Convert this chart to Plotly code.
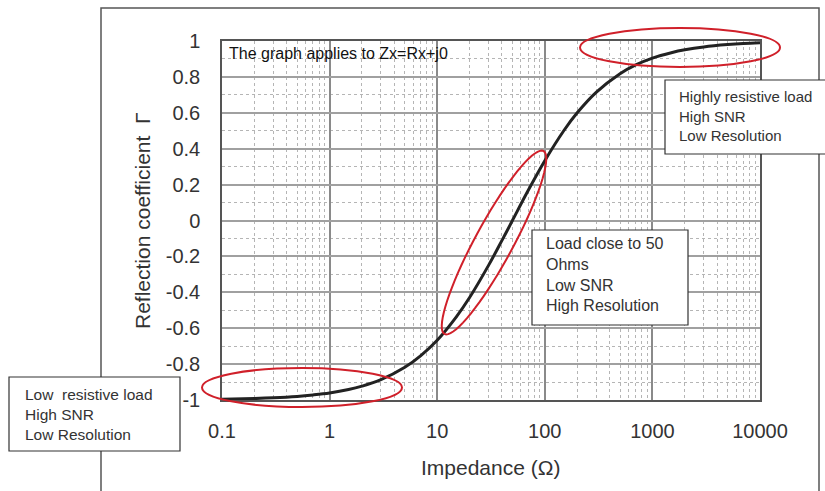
import plotly.graph_objects as go
import math

# Data
impedance = [0.1, 0.2, 0.3, 0.5, 0.7, 1, 1.5, 2, 3, 5, 7, 10, 15, 20, 30, 40, 50,
             70, 100, 150, 200, 300, 500, 700, 1000, 1500, 2000, 3000, 5000, 7000, 10000]
gamma = [-0.996, -0.992, -0.988, -0.980, -0.972, -0.961, -0.942, -0.923, -0.887,
         -0.818, -0.754, -0.667, -0.538, -0.429, -0.250, -0.111, 0.0, 0.167, 0.333,
         0.500, 0.600, 0.714, 0.818, 0.867, 0.905, 0.935, 0.951, 0.967, 0.980,
         0.986, 0.990]

x_tickvals = [0.1, 1, 10, 100, 1000, 10000]
x_ticktext = ["0.1", "1", "10", "100", "1000", "10000"]
y_tickvals = [1, 0.8, 0.6, 0.4, 0.2, 0, -0.2, -0.4, -0.6, -0.8, -1]
y_ticktext = ["1", "0.8", "0.6", "0.4", "0.2", "0", "-0.2", "-0.4", "-0.6", "-0.8", "-1"]

W, H = 825, 491
L, R, T, B = 222, 760, 41, 400


def px(x):
    return (x - L) / (R - L)


def py(y):
    return (B - y) / (B - T)


FONT = "Liberation Sans, Arial, sans-serif"
RED = "#d0202a"

fig = go.Figure()
fig.add_trace(go.Scatter(x=impedance, y=gamma, mode="lines",
                         line=dict(color="#222222", width=3, shape="spline"),
                         hoverinfo="skip", showlegend=False))

shapes = []
# outer frame
shapes.append(dict(type="rect", xref="paper", yref="paper",
                   x0=px(101), x1=px(819), y0=py(8), y1=py(520),
                   line=dict(color="#555555", width=1.5), layer="below"))
# red ellipses
shapes.append(dict(type="circle", xref="paper", yref="paper",
                   x0=px(580), x1=px(780), y0=py(28), y1=py(67),
                   line=dict(color=RED, width=2), layer="above"))
shapes.append(dict(type="circle", xref="paper", yref="paper",
                   x0=px(202), x1=px(402), y0=py(368), y1=py(407),
                   line=dict(color=RED, width=2), layer="above"))
# tilted ellipse
cx, cy = 494, 242.5
a, b = 104, 19
th = math.atan2(-(152 - 333), 543 - 445)
pts = []
for i in range(73):
    t = 2 * math.pi * i / 72
    ex = a * math.cos(t)
    ey = b * math.sin(t)
    xs = cx + ex * math.cos(th) - ey * math.sin(th)
    ys = cy - (ex * math.sin(th) + ey * math.cos(th))
    pts.append((px(xs), py(ys)))
path = "M " + " L ".join(f"{p[0]:.5f},{p[1]:.5f}" for p in pts) + " Z"
shapes.append(dict(type="path", xref="paper", yref="paper", path=path,
                   line=dict(color=RED, width=2), layer="above"))
# text boxes
for (x0, y0, x1, y1) in [(665, 80, 830, 154), (532, 230, 688, 325), (9, 377, 180, 451)]:
    shapes.append(dict(type="rect", xref="paper", yref="paper",
                       x0=px(x0), x1=px(x1), y0=py(y0), y1=py(y1),
                       fillcolor="white", line=dict(color="#333333", width=1.2),
                       layer="above"))

annotations = []
annotations.append(dict(text="The graph applies to Zx=Rx+j0", xref="paper", yref="paper",
                        x=px(227), y=py(53), xanchor="left", yanchor="middle",
                        showarrow=False, font=dict(family=FONT, size=16, color="#111111")))
box_texts = [
    ("Highly resistive load<br>High SNR<br>Low Resolution", 677, 116, 15),
    ("Load close to 50<br>Ohms<br>Low SNR<br>High Resolution", 544, 274, 16),
    ("Low  resistive load<br>High SNR<br>Low Resolution", 23, 414, 15.5),
]
for txt, x0, yc, fs in box_texts:
    annotations.append(dict(text=txt, xref="paper", yref="paper", x=px(x0), y=py(yc),
                            xanchor="left", yanchor="middle", align="left",
                            showarrow=False,
                            font=dict(family=FONT, size=fs, color="#333333")))
annotations.append(dict(text="Reflection coefficient  Γ", xref="paper", yref="paper",
                        x=px(142), y=py(221), textangle=-90, showarrow=False,
                        xanchor="center", yanchor="middle",
                        font=dict(family=FONT, size=21, color="#333333")))
annotations.append(dict(text="Impedance (Ω)", xref="paper", yref="paper",
                        x=px(490), y=py(467), showarrow=False,
                        xanchor="center", yanchor="middle",
                        font=dict(family=FONT, size=21, color="#333333")))

fig.update_layout(
    width=W, height=H,
    margin=dict(l=L, r=W - R, t=T, b=H - B),
    paper_bgcolor="white", plot_bgcolor="white",
    shapes=shapes, annotations=annotations,
    font=dict(family=FONT, size=20, color="#333333"),
)
fig.update_xaxes(type="log", range=[-1, 4], tickvals=x_tickvals, ticktext=x_ticktext,
                 showgrid=True, gridcolor="#8a8a8a", gridwidth=1.5,
                 showline=True, mirror=True, linecolor="#555555", linewidth=1.5,
                 ticks="", ticklabelstandoff=12, zeroline=False,
                 minor=dict(dtick="D1", showgrid=True, gridcolor="#b5b5b5",
                            griddash="dot", gridwidth=1, ticks=""))
fig.update_yaxes(range=[-1, 1], tickvals=y_tickvals, ticktext=y_ticktext,
                 showgrid=True, gridcolor="#a0a0a0", gridwidth=1.5,
                 showline=True, mirror=True, linecolor="#555555", linewidth=1.5,
                 ticks="", ticklabelstandoff=16, zeroline=False,
                 minor=dict(dtick=0.1, showgrid=True, gridcolor="#b5b5b5",
                            griddash="dot", gridwidth=1, ticks=""))

fig.write_html("out.html", config={"displayModeBar": False},
               post_script="document.body.style.margin='0px';")
